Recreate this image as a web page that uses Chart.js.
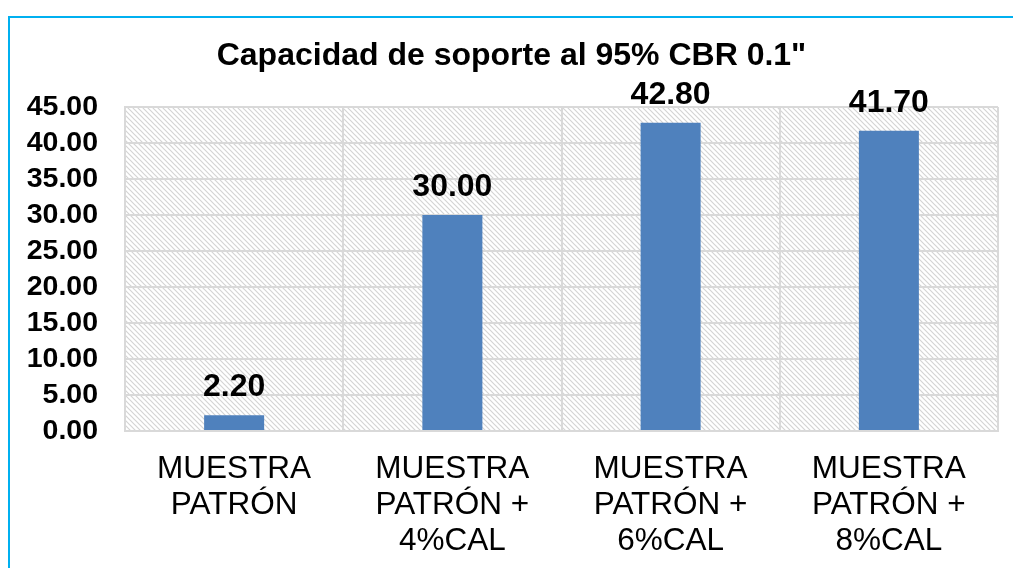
<!DOCTYPE html>
<html>
<head>
<meta charset="utf-8">
<script src="https://cdn.jsdelivr.net/npm/chart.js@4/dist/chart.umd.min.js"></script>
<style>
  html, body { margin: 0; padding: 0; background: #fff; }
  #wrap { position: relative; width: 1013px; height: 568px; overflow: hidden; }
  #frame {
    position: absolute; left: 8px; top: 16px; width: 1100px; height: 700px;
    border-left: 2px solid #00B0F0; border-top: 2px solid #00B0F0;
  }
  canvas { position: absolute; left: 0; top: 0; }
</style>
</head>
<body>
<div id="wrap">
  <div id="frame"></div>
  <canvas id="chart" width="1013" height="568"></canvas>
</div>
<script>
// datos del gráfico
const titulo = 'Capacidad de soporte al 95% CBR 0.1"';
const categorias = [
  ['MUESTRA', 'PATRÓN'],
  ['MUESTRA', 'PATRÓN +', '4%CAL'],
  ['MUESTRA', 'PATRÓN +', '6%CAL'],
  ['MUESTRA', 'PATRÓN +', '8%CAL']
];
const valoresCBR = [2.20, 30.00, 42.80, 41.70];
const yMin = 0, yMax = 45, yPaso = 5;

const FUENTE = "'Liberation Sans', Arial, sans-serif";

// trama diagonal del área de trazado
function crearTrama(ctx) {
    let c = document.createElement('canvas');
    c.width = 5; c.height = 5;
    let t = c.getContext('2d');
    t.fillStyle = '#fff';
    t.fillRect(0, 0, 5, 5);
    t.strokeStyle = '#d4d4d4';
    t.lineWidth = 1.2;
    t.beginPath();
    t.moveTo(-1, -1); t.lineTo(6, 6);
    t.moveTo(-6, -1); t.lineTo(1, 6);
    t.moveTo(4, -1); t.lineTo(11, 6);
    t.stroke();
    return ctx.createPattern(c, 'repeat');
}

const fondoTrama = {
    id: 'fondoTrama',
    beforeDraw(chart) {
        let a = chart.chartArea, ctx = chart.ctx;
        ctx.save();
        ctx.fillStyle = crearTrama(ctx);
        ctx.fillRect(a.left, a.top, a.right - a.left, a.bottom - a.top);
        ctx.restore();
    }
};

const etiquetas = {
    id: 'etiquetas',
    afterDatasetsDraw(chart) {
        let ctx = chart.ctx;
        let meta = chart.getDatasetMeta(0);
        ctx.save();
        ctx.font = 'bold 32px ' + FUENTE;
        ctx.fillStyle = '#000';
        ctx.textAlign = 'center';
        ctx.textBaseline = 'alphabetic';
        meta.data.forEach((bar, i) => {
            ctx.fillText(valoresCBR[i].toFixed(2), bar.x, bar.y - 19);
        });
        ctx.restore();
    }
};

new Chart(document.getElementById('chart').getContext('2d'), {
    type: 'bar',
    data: {
        labels: categorias,
        datasets: [{
            data: valoresCBR,
            backgroundColor: '#4F81BD',
            borderWidth: 0,
            barPercentage: 0.275,
            categoryPercentage: 1
        }]
    },
    options: {
        responsive: false,
        animation: false,
        layout: { padding: { left: 25, right: 15, top: 20, bottom: 0 } },
        plugins: {
            legend: { display: false },
            tooltip: { enabled: false },
            title: {
                display: true,
                text: titulo,
                color: '#000',
                font: { family: FUENTE, size: 32, weight: 'bold', lineHeight: 1.2 },
                padding: { top: 17, bottom: 31.6 }
            }
        },
        scales: {
            x: {
                afterFit: s => { s.height = 137; },
                grid: { color: '#d9d9d9', lineWidth: 2, drawTicks: false, offset: true },
                border: { color: '#d9d9d9', width: 2 },
                ticks: {
                    color: '#000',
                    padding: 20,
                    maxRotation: 0,
                    autoSkip: false,
                    font: { family: FUENTE, size: 31.5, lineHeight: '36px' }
                }
            },
            y: {
                min: yMin, max: yMax,
                afterFit: s => { s.width = 100; },
                grid: { color: '#d9d9d9', lineWidth: 2, drawTicks: false },
                border: { color: '#d9d9d9', width: 2 },
                ticks: {
                    stepSize: yPaso,
                    autoSkip: false,
                    color: '#000',
                    padding: 27,
                    font: { family: FUENTE, size: 28.5, weight: 'bold' },
                    callback: v => v.toFixed(2)
                }
            }
        }
    },
    plugins: [fondoTrama, etiquetas]
});
</script>
</body>
</html>
